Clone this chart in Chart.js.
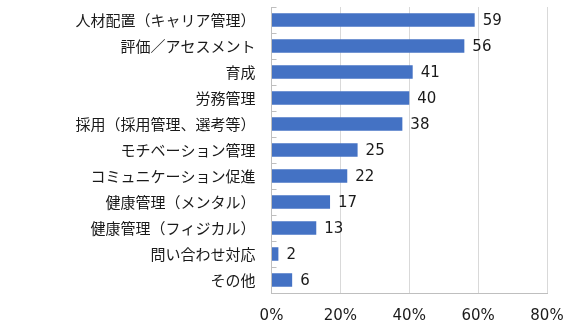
<!DOCTYPE html>
<html><head><meta charset="utf-8">
<script src="https://cdn.jsdelivr.net/npm/chart.js@4/dist/chart.umd.min.js"></script>
<style>html,body{margin:0;padding:0;background:#fff}#wrap{width:576px;height:327px}</style>
</head><body><div id="wrap"><canvas id="c" width="576" height="327"></canvas></div>
<script>
const categories = ["人材配置（キャリア管理）","評価／アセスメント","育成","労務管理","採用（採用管理、選考等）","モチベーション管理","コミュニケーション促進","健康管理（メンタル）","健康管理（フィジカル）","問い合わせ対応","その他"];
const values = [59,56,41,40,38,25,22,17,13,2,6];
const xTicks = [0,20,40,60,80];

const valueLabels = {
  id:'valueLabels',
  afterDatasetsDraw(chart){
    const ctx = chart.ctx;
    const meta = chart.getDatasetMeta(0);
    ctx.save();
    ctx.font = '15px "DejaVu Sans"';
    ctx.fillStyle = '#1a1a1a';
    ctx.textAlign = 'left';
    ctx.textBaseline = 'middle';
    meta.data.forEach((bar,i)=>{
      ctx.fillText(String(values[i]), bar.x + 8, bar.y + 1);
    });
    ctx.restore();
  }
};

new Chart(document.getElementById('c'),{
  type:'bar',
  data:{labels:categories,datasets:[{data:values,backgroundColor:'#4472C4',barPercentage:1,categoryPercentage:0.52}]},
  options:{
    indexAxis:'y',responsive:false,animation:false,
    layout:{padding:{left:0,right:29,top:7,bottom:0}},
    plugins:{legend:{display:false},tooltip:{enabled:false}},
    scales:{
      x:{min:0,max:80,
        afterBuildTicks(s){s.ticks = xTicks.map(v=>({value:v}));},
        afterFit(s){s.height = 34; s.paddingLeft = 0; s.paddingRight = 0;},
        grid:{color:'#d9d9d9',drawTicks:false},
        border:{color:'#bfbfbf'},
        ticks:{padding:14,color:'#1a1a1a',font:{family:'DejaVu Sans',size:15},callback:v=>v+'%'}
      },
      y:{
        afterFit(s){s.width = 271.5; s.paddingTop = 0; s.paddingBottom = 0;},
        grid:{drawOnChartArea:false,tickLength:-5,color:'#bfbfbf'},
        border:{color:'#bfbfbf'},
        ticks:{padding:21,color:'#1a1a1a',font:{family:'Noto Sans CJK JP',size:15}}
      }
    }
  },
  plugins:[valueLabels]
});
</script></body></html>
